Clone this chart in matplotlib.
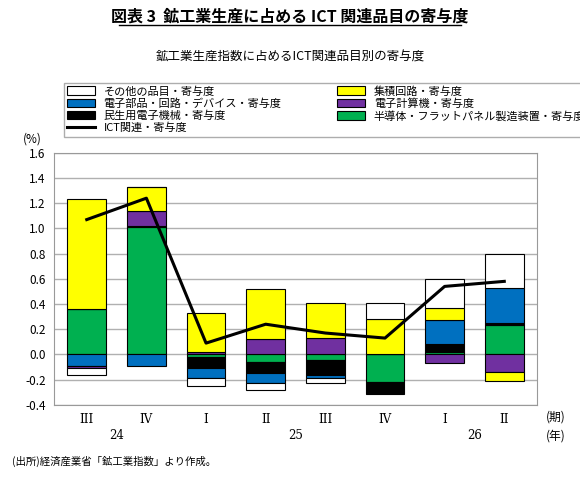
import matplotlib.pyplot as plt
import numpy as np

plt.rcParams['font.family'] = ['Noto Sans CJK JP', 'DejaVu Sans']

periods = ["III", "IV", "I", "II", "III", "IV", "I", "II"]
years = ["24", "25", "26"]

green = [0.36, 1.01, -0.02, -0.06, -0.04, -0.22, 0.02, 0.23]
black = [0.00, 0.01, -0.09, -0.09, -0.12, -0.09, 0.06, 0.02]
blue = [-0.09, -0.09, -0.08, -0.08, -0.03, 0.00, 0.19, 0.28]
purple = [-0.02, 0.12, 0.02, 0.12, 0.13, 0.00, -0.07, -0.14]
yellow = [0.87, 0.19, 0.31, 0.40, 0.28, 0.28, 0.10, -0.07]
white = [-0.05, 0.00, -0.06, -0.05, -0.04, 0.13, 0.23, 0.27]
ict = [1.07, 1.24, 0.09, 0.24, 0.17, 0.13, 0.54, 0.58]

series = [
    ("半導体・フラットパネル製造装置・寄与度", green, "#00b050"),
    ("民生用電子機械・寄与度", black, "#000000"),
    ("電子部品・回路・デバイス・寄与度", blue, "#0070c0"),
    ("電子計算機・寄与度", purple, "#7030a0"),
    ("集積回路・寄与度", yellow, "#ffff00"),
    ("その他の品目・寄与度", white, "#ffffff"),
]

fig = plt.figure(figsize=(5.8, 4.82), dpi=100)
ax = fig.add_axes([0.093, 0.160, 0.833, 0.523])

x = np.arange(len(periods))
pos = np.zeros(len(x))
neg = np.zeros(len(x))
handles = {}
for name, vals, col in series:
    v = np.array(vals)
    base = np.where(v >= 0, pos, neg)
    h = ax.bar(x, v, 0.65, bottom=base, color=col, edgecolor="black", linewidth=0.8, label=name, zorder=2)
    handles[name] = h
    pos += np.where(v >= 0, v, 0)
    neg += np.where(v < 0, v, 0)
ln, = ax.plot(x, ict, color="black", lw=2.2, zorder=3, label="ICT関連・寄与度")

ax.set_ylim(-0.4, 1.6)
ax.set_xlim(-0.55, 7.55)
ticks = np.arange(-0.4, 1.61, 0.2)
ax.set_yticks(ticks)
ax.set_yticklabels([f"{t:.1f}" for t in ticks], fontsize=8.5)
ax.yaxis.grid(True, color="#b0b0b0", lw=1, zorder=0)
ax.set_xticks(x)
ax.set_xticklabels(periods, family="DejaVu Serif", fontsize=8.5)
ax.tick_params(length=0, pad=6)
for s in ax.spines.values():
    s.set_color("#999999")

for xi, yr in zip([0.5, 3.5, 6.5], years):
    ax.text(xi, -0.59, yr, ha="center", va="top", fontsize=8.5, family="DejaVu Serif")
ax.text(7.7, -0.5, "(期)", fontsize=8.5, ha="left", va="center")
ax.text(7.7, -0.65, "(年)", fontsize=8.5, ha="left", va="center")
fig.text(0.04, 0.705, "(%)", fontsize=8.5)

col1 = ["その他の品目・寄与度", "電子部品・回路・デバイス・寄与度", "民生用電子機械・寄与度"]
col2 = ["集積回路・寄与度", "電子計算機・寄与度", "半導体・フラットパネル製造装置・寄与度"]
hs = [handles[n] for n in col1] + [ln] + [handles[n] for n in col2]
ls = col1 + ["ICT関連・寄与度"] + col2
leg = fig.legend(hs, ls, loc="upper left", bbox_to_anchor=(0.1, 0.84), ncol=2, fontsize=8,
                 frameon=True, fancybox=False, edgecolor="#999999", handlelength=2.5,
                 columnspacing=5.0, borderpad=0.3, labelspacing=0.15, handleheight=0.8)

fig.text(0.5, 0.955, "図表 3  鉱工業生産に占める ICT 関連品目の寄与度", ha="center", fontsize=11.5, fontweight="bold")
fig.add_artist(plt.Line2D([0.205, 0.795], [0.948, 0.948], color="black", lw=1))
fig.text(0.5, 0.875, "鉱工業生産指数に占めるICT関連品目別の寄与度", ha="center", fontsize=9)
fig.text(0.02, 0.035, "(出所)経済産業省「鉱工業指数」より作成。", fontsize=7.5)

fig.savefig("out.png", dpi=100)
